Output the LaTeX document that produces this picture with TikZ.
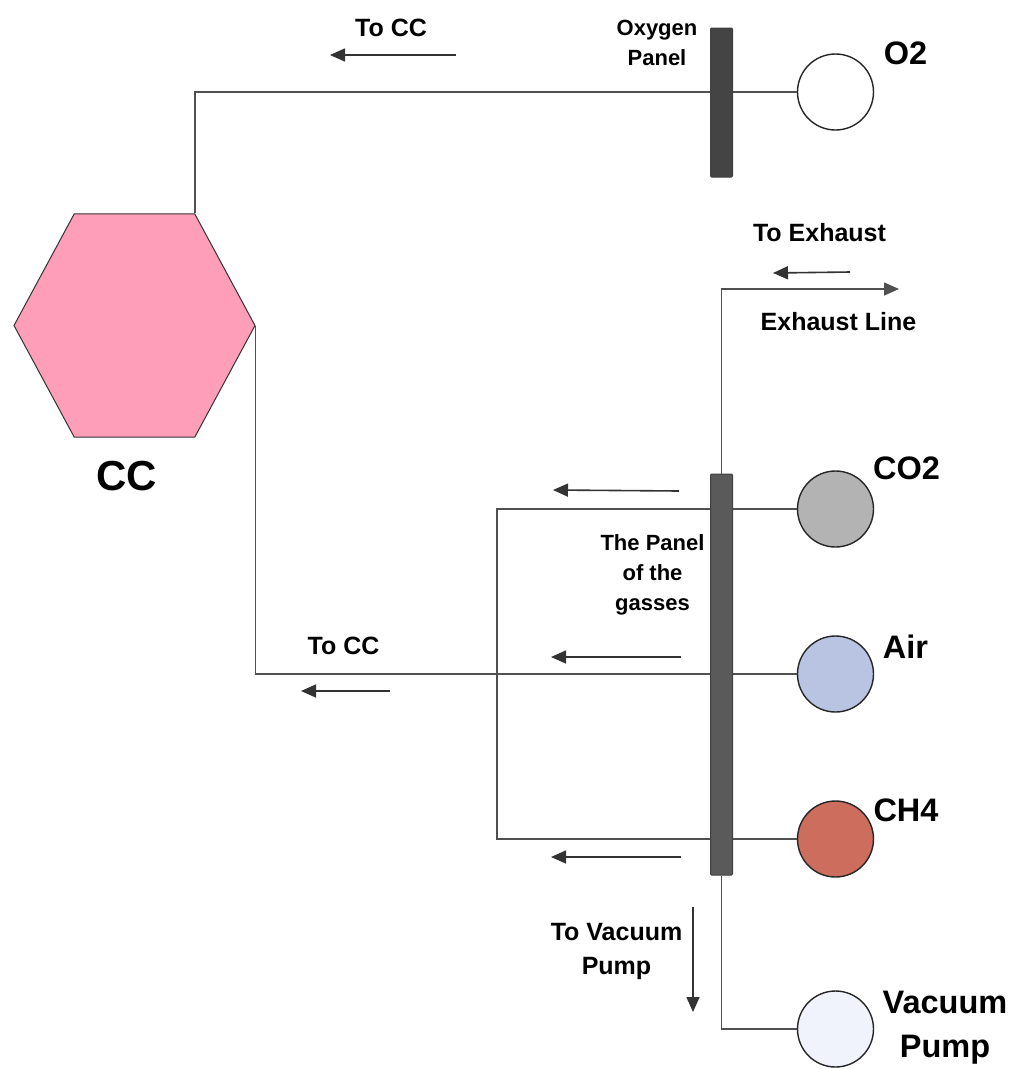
\documentclass[tikz,border=0pt]{standalone}
\usepackage{fontspec}
\setmainfont{Liberation Sans}
\usepackage{tikz}
\usepackage{xcolor}
\usetikzlibrary{shapes.geometric, arrows.meta, positioning, calc}
\definecolor{cLine}{RGB}{80,80,80}
\definecolor{cPink}{RGB}{255,158,184}
\definecolor{cDark}{RGB}{68,68,68}
\definecolor{cPanel}{RGB}{90,90,90}
\definecolor{cCarbon}{RGB}{179,179,179}
\definecolor{cAir}{RGB}{185,195,226}
\definecolor{cMethane}{RGB}{204,109,94}
\definecolor{cVacuum}{RGB}{241,243,252}
\tikzset{
	pipe/.style     ={draw=cLine, line width=1.6pt},
	flowarrow/.style={-{Triangle[length=15pt, width=13pt]}, line width=1.6pt, draw=black!80},
	panelbar/.style ={rectangle, rounded corners=1pt, draw=black!75, line width=1pt, minimum width=22pt, inner sep=0pt},
	gas/.style      ={circle, draw=black!85, line width=1.4pt, minimum size=76pt, inner sep=0pt},
	% text sizes
	small/.style    ={align=center, inner sep=0pt, font=\bfseries\fontsize{22}{30}\selectfont},
	mid/.style      ={align=center, inner sep=0pt, font=\bfseries\fontsize{25}{34}\selectfont},
	big/.style      ={align=center, inner sep=0pt, font=\bfseries\fontsize{32.5}{44}\selectfont},
}
\begin{document}
\begin{tikzpicture}[x=1pt, y=-1pt]
	\useasboundingbox (0,0) rectangle (1015,1069);
	\node[regular polygon, regular polygon sides=6, minimum size=241pt, inner sep=0pt, yscale=1.07, draw=black!80, line width=1pt, fill=cPink] (cc) at (134.5,325.5) {};
	\node[panelbar, fill=cDark, minimum height=149pt] (oxypanel) at (721.5,102.5) {};
	\node[panelbar, fill=cPanel, minimum height=401pt] (gaspanel) at (721.5,674.5) {};
	\foreach \name/\y/\col in {o2/92/white, co2/509/cCarbon, air/674/cAir, ch4/839/cMethane, vac/1029/cVacuum}
		\node[gas, fill=\col] (\name) at (835.5,\y) {};
	% gas lines into the panels
	\draw[pipe] (o2.west) -- (o2.west -| oxypanel.east);
	\foreach \name in {co2,air,ch4}
		\draw[pipe] (\name.west) -- (\name.west -| gaspanel.east);
	% lines to the chamber
	\draw[pipe] (cc.corner 1) |- (o2.west -| oxypanel.west);
	\draw[pipe] (cc.corner 6) |- (air.west -| gaspanel.west);
	\coordinate (loop) at (497,509);
	\draw[pipe] (co2.west -| gaspanel.west) -- (loop) -- (loop |- ch4.west) -- (ch4.west -| gaspanel.west);
	% exhaust and vacuum
	\coordinate (exh) at (899,289);
	\draw[pipe, -{Triangle[length=15pt, width=13pt]}] (gaspanel.north) |- (exh);
	\draw[pipe] (gaspanel.south) |- (vac.west);
	% direction arrows
	\foreach \name/\xa/\ya/\xb/\yb in {a/456/55/330/55, b/850/272/773/273, c/679/491/553/490, d/681/657/551/657, e/681/857/551/857, f/390/691/301/691, g/693/907/693/1012} {
		\coordinate (\name s) at (\xa,\ya);
		\coordinate (\name t) at (\xb,\yb);
		\draw[flowarrow] (\name s) -- (\name t);
	}
	% labels
	\node[big, font=\bfseries\fontsize{42}{50}\selectfont] (cclabel) at (126.5,476) {CC};
	\node[mid] (tocc1) at (391,28) {To CC};
	\node[mid] (tocc2) at (343.5,646) {To CC};
	\node[small] (oxylabel) at (657,43) {Oxygen\\Panel};
	\node[mid] (toexh) at (819.5,233) {To Exhaust};
	\node[mid] (exhlabel) at (838.5,322) {Exhaust Line};
	\node[small] (gaslabel) at (652.5,575) {The Panel\\of the\\gasses};
	\node[mid] (tovac) at (616.5,951) {To Vacuum\\Pump};
	\node[big] (o2label) at (905.5,53) {O2};
	\node[big] (co2label) at (906.5,468) {CO2};
	\node[big] (airlabel) at (905.5,647) {Air};
	\node[big] (ch4label) at (906,810) {CH4};
	\node[big] (vaclabel) at (945,1028) {Vacuum\\Pump};
\end{tikzpicture}
\end{document}
